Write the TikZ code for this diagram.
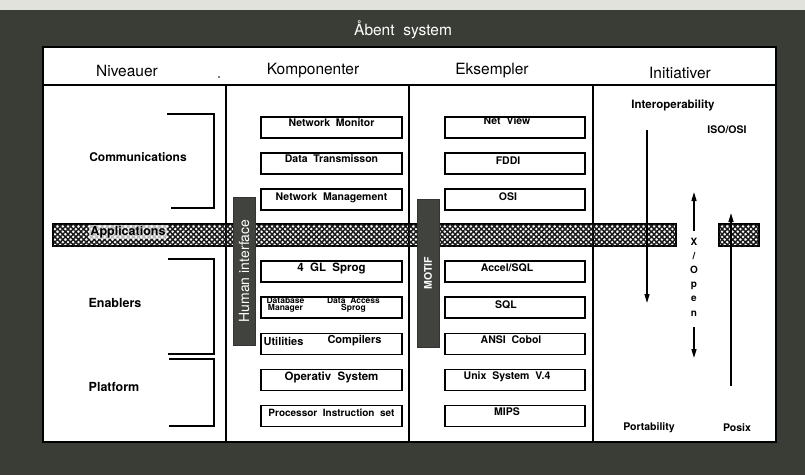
\documentclass[tikz,border=0pt]{standalone}
\usepackage{fontspec}
\setmainfont{TeX Gyre Heros}
\usetikzlibrary{patterns.meta,arrows.meta}
\definecolor{framecol}{HTML}{3A3C36}
\definecolor{barcol}{HTML}{40433E}
\definecolor{papercol}{HTML}{E2E2DC}
\tikzset{
  hdr/.style={font=\fontsize{15.5}{18}\selectfont},
  lvl/.style={font=\bfseries\fontsize{12.5}{14}\selectfont},
  ini/.style={font=\bfseries\fontsize{10.5}{12}\selectfont},
  cbox/.style={draw, line width=1.2pt, minimum width=141pt, minimum height=21pt, inner sep=0pt},
  ebox/.style={draw, line width=1.2pt, minimum width=140pt, minimum height=21pt, inner sep=0pt},
  blbl/.style={font=\bfseries\fontsize{10.5}{12}\selectfont},
  tiny/.style={font=\bfseries\fontsize{8.5}{7.5}\selectfont, align=center},
  band/.style={draw, line width=1.1pt, inner sep=0pt,
    pattern={Lines[angle=45,distance=3.7pt,line width=1.5pt]}, pattern color=black!90,
    postaction={pattern={Lines[angle=-45,distance=3.7pt,line width=1.5pt]}, pattern color=black!90}},
  bar/.style={fill=barcol, draw=black!80, line width=0.8pt, inner sep=0pt, text=white},
  divider/.style={line width=1.3pt},
  bracket/.style={line width=1.3pt},
  arr/.style={line width=1.4pt, -{Triangle[length=9pt,width=5pt]}}
}
\begin{document}
\begin{tikzpicture}[x=1pt,y=-1pt]
\useasboundingbox (0,0) rectangle (805,475);
% background frame
\fill[papercol] (0,0) rectangle (805,10);
\fill[framecol] (0,10) rectangle (805,475);
\node[text=white, font=\fontsize{15.5}{18}\selectfont] (title) at (403,30) {Åbent\ \ system};
% white panel
\node[draw, fill=white, line width=1.5pt, minimum width=733pt, minimum height=395pt, inner sep=0pt] (panel) at (409.5,244.5) {};
% header
\node[hdr] (h1) at (127,71) {Niveauer};
\node[hdr] (h2) at (313,71) {Komponenter};
\node[hdr] (h3) at (492,71) {Eksempler};
\node[hdr] (h4) at (680,73) {Initiativer};
\fill (219,77) circle (0.9);
\draw[divider] (43,85) -- (776,85);
\draw[divider] (226,85) -- (226,442);
\draw[divider] (409,85) -- (409,442);
\draw[divider] (593,85) -- (593,442);
% level brackets
\draw[bracket] (167,114) -- (214,114) -- (214,208) -- (171,208);
\draw[bracket] (168,259) -- (214,259) -- (214,354) -- (168,354);
\draw[bracket] (169,359) -- (214,359) -- (214,426) -- (169,426);
\node[lvl, font=\bfseries\fontsize{12}{14}\selectfont] (comm) at (138,157) {Communications};
\node[lvl] (enab) at (115,303) {Enablers};
\node[lvl] (plat) at (114,387) {Platform};
% component boxes
\node[cbox, label={[blbl,yshift=5pt]center:Network\ \ Monitor}] (c1) at (331.5,127.5) {};
\node[cbox, label={[blbl,yshift=5pt]center:Data\ \ Transmisson}] (c2) at (331.5,163.5) {};
\node[cbox, label={[blbl,yshift=2pt]center:Network\ \ Management}] (c3) at (331.5,199.5) {};
\node[cbox, label={[blbl,yshift=3pt,font=\bfseries\fontsize{11.5}{13}\selectfont]center:4\ \ GL\ \ Sprog}] (c4) at (331.5,271.5) {};
\node[cbox, label={[tiny,xshift=-46pt,yshift=2.5pt]center:Database\\Manager},
            label={[tiny,xshift=22pt,yshift=2.5pt]center:Data\ \ Access\\Sprog}] (c5) at (331.5,307.5) {};
\node[cbox, label={[blbl,xshift=-48pt,yshift=3pt,font=\bfseries\fontsize{11}{13}\selectfont]center:Utilities},
            label={[blbl,xshift=23pt,yshift=3pt,font=\bfseries\fontsize{11}{13}\selectfont]center:Compilers}] (c6) at (331.5,344) {};
\node[cbox, label={[blbl,yshift=3pt,font=\bfseries\fontsize{11.5}{13}\selectfont]center:Operativ\ \ System}] (c7) at (331.5,380) {};
\node[cbox, label={[blbl,yshift=3pt,font=\bfseries\fontsize{10}{12}\selectfont]center:Processor\ \ Instruction\ \ set}] (c8) at (331.5,416) {};
% example boxes
\node[ebox, label={[blbl,xshift=-8pt,yshift=7pt]center:Net\ \ View}] (e1) at (515,127.5) {};
\node[ebox, label={[blbl,xshift=-7pt,yshift=3pt]center:FDDI}] (e2) at (515,163.5) {};
\node[ebox, label={[blbl,xshift=-7pt,yshift=3pt]center:OSI}] (e3) at (515,199.5) {};
\node[ebox, label={[blbl,xshift=-8pt,yshift=4pt]center:Accel/SQL}] (e4) at (515,271.5) {};
\node[ebox, label={[blbl,xshift=-9pt,yshift=3pt]center:SQL}] (e5) at (515,307.5) {};
\node[ebox, label={[blbl,xshift=-4pt,yshift=4pt]center:ANSI\ \ Cobol}] (e6) at (515,344) {};
\node[ebox, label={[blbl,xshift=-8pt,yshift=3pt]center:Unix\ \ System\ \ V.4}] (e7) at (515,380) {};
\node[ebox, label={[blbl,xshift=-8pt,yshift=4pt]center:MIPS}] (e8) at (515,416) {};
% application band
\node[band, minimum width=623pt, minimum height=22pt] (band) at (364.5,235) {};
\node[band, minimum width=40pt, minimum height=22pt] (band2) at (739,235) {};
\node[lvl, fill=white, fill opacity=0.7, text opacity=1, inner sep=1pt, font=\bfseries\fontsize{12.5}{14}\selectfont] (appl) at (128,232) {Applications};
% vertical bars
\node[bar, rotate=90, minimum width=148pt, minimum height=22pt, font=\fontsize{14}{16}\selectfont] (hui) at (244,271) {Human\ interface};
\node[bar, rotate=90, minimum width=148pt, minimum height=22pt, font=\bfseries\fontsize{10.5}{12}\selectfont] (motif) at (428,273) {MOTIF};
% initiatives
\node[ini, font=\bfseries\fontsize{11.5}{13}\selectfont] (interop) at (673,105) {Interoperability};
\node[ini] (iso) at (727,130) {ISO/OSI};
\node[ini] (port) at (649,428) {Portability};
\node[ini] (posix) at (737,428) {Posix};
\node[font=\bfseries\fontsize{10}{14.2}\selectfont, align=center, inner sep=0pt] (xo) at (694,277) {X\\/\\O\\p\\e\\n};
\coordinate (pa1) at (647,130);
\coordinate (pa2) at (647,303);
\draw[arr] (pa1) -- (pa2);
\coordinate (xu0) at (694,231);
\coordinate (xu1) at (694,192);
\draw[arr] (xu0) -- (xu1);
\coordinate (xd0) at (694,327);
\coordinate (xd1) at (694,358);
\draw[arr] (xd0) -- (xd1);
\coordinate (px0) at (731,386);
\coordinate (px1) at (731,213);
\draw[arr] (px0) -- (px1);
\end{tikzpicture}
\end{document}
